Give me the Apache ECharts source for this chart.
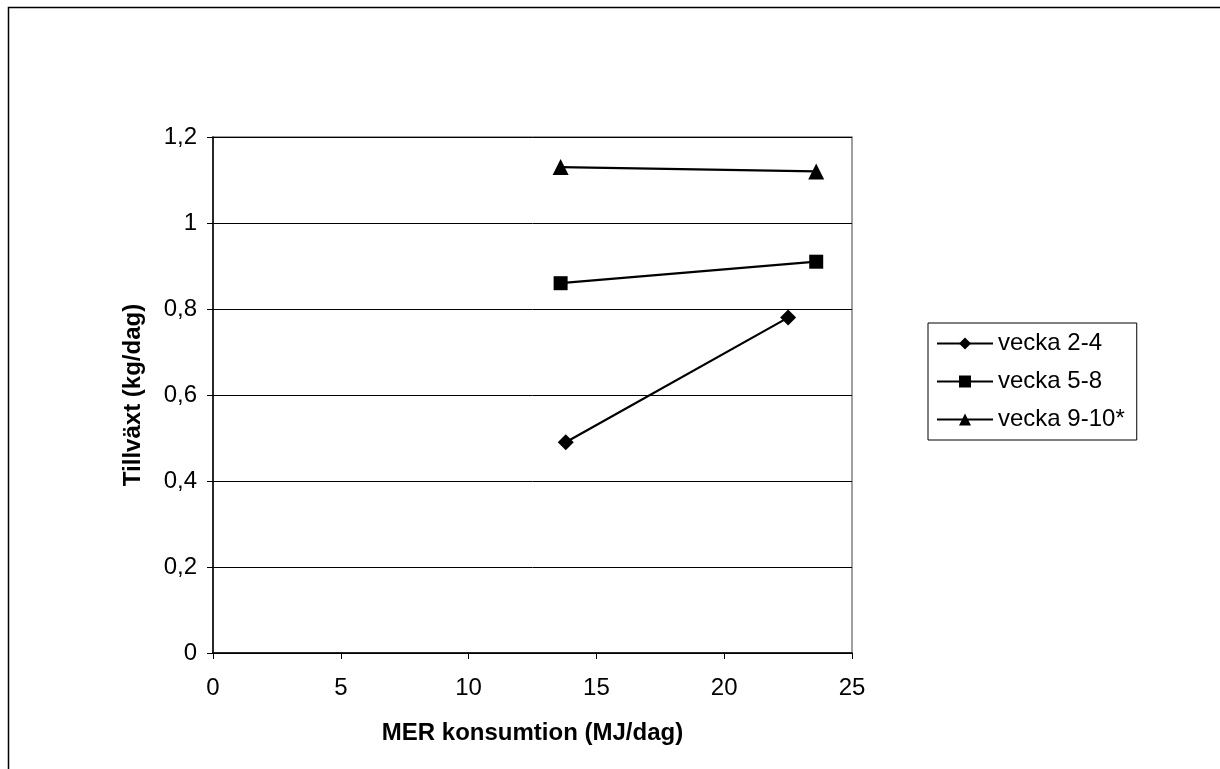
<!DOCTYPE html>
<html><head><meta charset="utf-8">
<script src="https://cdn.jsdelivr.net/npm/echarts@6/dist/echarts.min.js"></script>
<style>html,body{margin:0;padding:0;background:#fff;}#c{width:1220px;height:769px;}</style>
</head><body><div id="c"></div>
<script>
const seriesNames = ['vecka 2-4', 'vecka 5-8', 'vecka 9-10*'];
const x24 = [13.8, 22.5];
const y24 = [0.49, 0.78];
const x58 = [13.6, 23.6];
const y58 = [0.86, 0.91];
const x910 = [13.6, 23.6];
const y910 = [1.13, 1.12];
const symbols = ['diamond', 'rect', 'triangle'];
const symbolSizes = [16, 14, 16];

const pairs = (xs, ys) => xs.map((x, i) => [x, ys[i]]);
const data = [pairs(x24, y24), pairs(x58, y58), pairs(x910, y910)];
const fmt = v => String(v).replace('.', ',');
const font = 'Liberation Sans, Arial, sans-serif';

const chart = echarts.init(document.getElementById('c'));
chart.setOption({
  animation: false,
  backgroundColor: '#fff',
  graphic: [{
    type: 'rect', shape: {x: 8.5, y: 7.5, width: 1400, height: 1000},
    style: {fill: 'none', stroke: '#000', lineWidth: 1.5}, silent: true
  }],
  grid: {left: 213, top: 137, width: 639, height: 516, show: true, borderColor: '#808080', borderWidth: 1.5, backgroundColor: 'transparent'},
  legend: {
    orient: 'vertical', left: 928, top: 323,
    data: seriesNames,
    itemWidth: 56, itemHeight: 15, itemGap: 13,
    padding: [8, 12, 8, 8],
    borderColor: '#000', borderWidth: 1,
    textStyle: {fontFamily: font, fontSize: 24, lineHeight: 25, color: '#000'}
  },
  xAxis: {
    type: 'value', min: 0, max: 25, interval: 5,
    name: 'MER konsumtion (MJ/dag)', nameLocation: 'middle', nameGap: 68,
    nameTextStyle: {fontFamily: font, fontSize: 24, fontWeight: 'bold', color: '#000'},
    axisLine: {show: true, lineStyle: {color: '#000', width: 1.5}},
    axisTick: {show: true, length: 6, lineStyle: {color: '#000'}},
    axisLabel: {fontFamily: font, fontSize: 24, color: '#000', margin: 23},
    splitLine: {show: false}
  },
  yAxis: {
    type: 'value', min: 0, max: 1.2, interval: 0.2,
    name: 'Tillväxt (kg/dag)', nameLocation: 'middle', nameGap: 68, nameRotate: 90,
    nameTextStyle: {fontFamily: font, fontSize: 24, fontWeight: 'bold', color: '#000'},
    axisLine: {show: true, lineStyle: {color: '#000', width: 1.5}},
    axisTick: {show: true, length: 6, lineStyle: {color: '#000'}},
    axisLabel: {fontFamily: font, fontSize: 24, color: '#000', margin: 16, formatter: fmt},
    splitLine: {show: true, lineStyle: {color: '#000', width: 1}}
  },
  series: seriesNames.map((n, i) => ({
    name: n, type: 'line', data: data[i],
    symbol: symbols[i], symbolSize: symbolSizes[i],
    lineStyle: {color: '#000', width: 2.2},
    itemStyle: {color: '#000'},
    z: 3
  }))
});
</script></body></html>
